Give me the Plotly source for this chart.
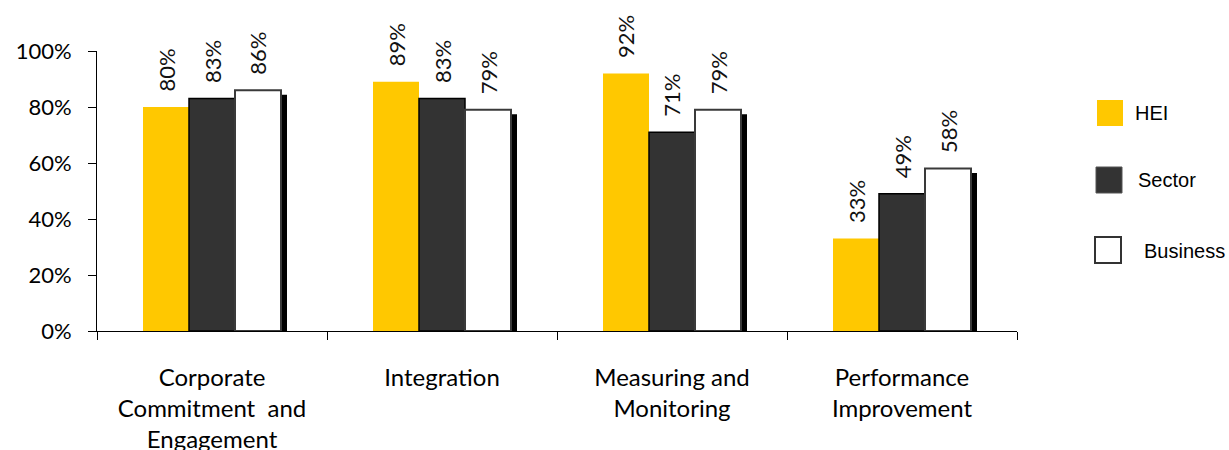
import plotly.graph_objects as go

# Data
categories = ["Corporate Commitment and Engagement", "Integration",
              "Measuring and Monitoring", "Performance Improvement"]
tick_labels = ["Corporate<br>Commitment  and<br>Engagement", "Integration",
               "Measuring and<br>Monitoring", "Performance<br>Improvement"]
series_names = ["HEI", "Sector", "Business"]
hei = [80, 89, 92, 33]
sector = [83, 83, 71, 49]
business = [86, 79, 79, 58]
y_ticks = [0, 20, 40, 60, 80, 100]
y_tick_labels = ["0%", "20%", "40%", "60%", "80%", "100%"]

# Styling
HEI_COLOR = "#FFC800"
SECTOR_COLOR = "#333333"
BUS_COLOR = "#FFFFFF"
FONT = "Lato, Open Sans, sans-serif"
LEGEND_FONT = "Liberation Sans, Arial, sans-serif"

W, H = 1229, 450
L, R, T, B = 97, 212, 51, 119
PW, PH = W - L - R, H - T - B

BAR_W = 0.2
offsets = [-0.3, -0.1, 0.1]
shadow_dx = 6 / (PW / len(categories))
shadow_dy = 1.6

idx = list(range(len(categories)))

fig = go.Figure()
fig.add_trace(go.Bar(x=categories, y=hei, width=BAR_W, offset=offsets[0],
                     marker=dict(color=HEI_COLOR, line=dict(width=0)),
                     name=series_names[0], showlegend=False, cliponaxis=False))
fig.add_trace(go.Bar(x=categories, y=sector, width=BAR_W, offset=offsets[1],
                     marker=dict(color=SECTOR_COLOR, line=dict(color="#000000", width=1.5)),
                     name=series_names[1], showlegend=False, cliponaxis=False))
# drop shadow behind the Business bars
fig.add_trace(go.Bar(x=categories, y=business, base=[-shadow_dy] * len(business),
                     width=BAR_W, offset=offsets[2] + shadow_dx,
                     marker=dict(color="#000000", line=dict(width=0)),
                     showlegend=False, hoverinfo="skip", cliponaxis=False))
fig.add_trace(go.Bar(x=categories, y=business, width=BAR_W, offset=offsets[2],
                     marker=dict(color=BUS_COLOR, line=dict(color="#3a3a3a", width=2)),
                     name=series_names[2], showlegend=False, cliponaxis=False))

# rotated value labels above each bar
annotations = []
for values, off in zip([hei, sector, business], offsets):
    for i, v in zip(idx, values):
        annotations.append(dict(
            x=i + off + BAR_W / 2, y=v, xref="x", yref="y",
            text=f"{v}%", textangle=-90, showarrow=False,
            xanchor="center", yanchor="bottom", yshift=13,
            font=dict(family=FONT, size=22, color="#111111")))

# legend drawn on the right side
def px_to_paper_x(px):
    return (px - L) / PW

def px_to_paper_y(py):
    return (H - B - py) / PH

legend_items = [
    (series_names[0], dict(fillcolor=HEI_COLOR, line=dict(width=0)), 1097, 100, 1133, 113),
    (series_names[1], dict(fillcolor=SECTOR_COLOR, line=dict(color="#555555", width=1)), 1096, 167, 1136, 180),
    (series_names[2], dict(fillcolor=BUS_COLOR, line=dict(color="#333333", width=2)), 1095, 237, 1142, 251),
]
shapes = []
for label, style, sx, sy, tx, ty in legend_items:
    shapes.append(dict(type="rect", xref="paper", yref="paper",
                       x0=px_to_paper_x(sx), x1=px_to_paper_x(sx + 26),
                       y0=px_to_paper_y(sy + 26), y1=px_to_paper_y(sy), **style))
    annotations.append(dict(x=px_to_paper_x(tx), y=px_to_paper_y(ty),
                            xref="paper", yref="paper", text=label, showarrow=False,
                            xanchor="left", yanchor="middle",
                            font=dict(family=LEGEND_FONT, size=20, color="#000000")))

fig.update_layout(
    width=W, height=H, autosize=False,
    margin=dict(l=L, r=R, t=T, b=B, pad=0),
    paper_bgcolor="white", plot_bgcolor="white",
    barmode="overlay", showlegend=False,
    annotations=annotations, shapes=shapes,
    font=dict(family=FONT, color="#000000"),
)
fig.update_xaxes(
    type="category", categoryorder="array", categoryarray=categories,
    tickmode="array", tickvals=categories, ticktext=tick_labels,
    tickson="boundaries", ticks="outside", ticklen=8, tickcolor="#000000", tickwidth=1,
    showline=True, linecolor="#000000", linewidth=1, automargin=False,
    showgrid=False, zeroline=False, ticklabelstandoff=25,
    tickfont=dict(family=FONT, size=24, color="#000000"),
    range=[-0.5, len(categories) - 0.5],
)
fig.update_yaxes(
    range=[0, 100], tickmode="array", tickvals=y_ticks, ticktext=y_tick_labels,
    ticks="outside", ticklen=8, tickcolor="#000000", tickwidth=1,
    showline=True, linecolor="#000000", linewidth=1, automargin=False,
    showgrid=False, zeroline=False, ticklabelstandoff=12,
    tickfont=dict(family=FONT, size=22, color="#000000"),
)

fig.write_html("out.html")
